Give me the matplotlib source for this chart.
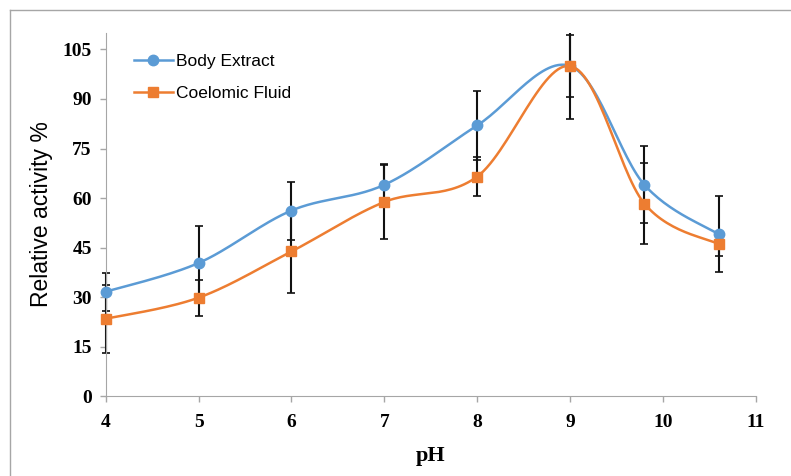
import numpy as np
import matplotlib
matplotlib.use('Agg')
import matplotlib.pyplot as plt
from matplotlib.lines import Line2D
from matplotlib.patches import Rectangle

# data
ph = [4, 5, 6, 7, 8, 9, 9.8, 10.6]
body = [31.6, 40.3, 56.2, 64.0, 82.0, 100.0, 64.0, 49.0]
body_err = [5.8, 11.2, 8.8, 6.4, 10.5, 9.4, 11.7, 11.5]
coel = [23.4, 29.8, 43.8, 58.8, 66.5, 100.0, 58.3, 46.0]
coel_err = [10.3, 5.5, 12.5, 11.3, 6.0, 16.0, 12.3, 3.5]

BLUE = '#5B9BD5'
ORANGE = '#ED7D31'


def smooth(x, y, n=30):
    # Excel-like smoothed line: cubic bezier through the points
    x = np.asarray(x, float)
    y = np.asarray(y, float)
    px, py = [], []
    for i in range(len(x) - 1):
        i0 = max(i - 1, 0)
        i3 = min(i + 2, len(x) - 1)
        c1x = x[i] + (x[i + 1] - x[i0]) / 6
        c1y = y[i] + (y[i + 1] - y[i0]) / 6
        c2x = x[i + 1] - (x[i3] - x[i]) / 6
        c2y = y[i + 1] - (y[i3] - y[i]) / 6
        t = np.linspace(0, 1, n)
        bx = (1-t)**3*x[i] + 3*(1-t)**2*t*c1x + 3*(1-t)*t**2*c2x + t**3*x[i+1]
        by = (1-t)**3*y[i] + 3*(1-t)**2*t*c1y + 3*(1-t)*t**2*c2y + t**3*y[i+1]
        px.extend(bx)
        py.extend(by)
    return px, py


fig = plt.figure(figsize=(7.91, 4.76), dpi=100)
ax = fig.add_axes([0.1336, 0.168, 0.822, 0.7627])

# clip only at top/bottom so bars at pH 4 stay whole
clip = Rectangle((-0.05, 0), 1.1, 1.0, transform=ax.transAxes, fill=False, visible=False)
ax.add_patch(clip)

for y, err, col, mk, ms in [(body, body_err, BLUE, 'o', 7.5), (coel, coel_err, ORANGE, 's', 6.5)]:
    sx, sy = smooth(ph, y)
    ax.plot(sx, sy, color=col, lw=1.8, zorder=3, clip_on=False)
    eb = ax.errorbar(ph, y, yerr=err, fmt='none', ecolor='#111111', elinewidth=1.5,
                     capsize=3, capthick=1.2, zorder=2)
    for art in list(eb.lines[1]) + list(eb.lines[2]):
        art.set_clip_path(clip)
    ax.plot(ph, y, ls='none', marker=mk, ms=ms, color=col, mec=col, zorder=4, clip_on=False)

ax.set_xlim(4, 11)
ax.set_ylim(0, 110)
ax.set_xticks(range(4, 12))
ax.set_yticks(range(0, 106, 15))
for s in ['top', 'right']:
    ax.spines[s].set_visible(False)
for s in ['left', 'bottom']:
    ax.spines[s].set_color('#a6a6a6')
ax.tick_params(colors='#a6a6a6', length=4, width=1, labelcolor='black')
for lab in ax.get_xticklabels() + ax.get_yticklabels():
    lab.set_fontfamily('Liberation Serif')
    lab.set_fontweight('bold')
    lab.set_fontsize(14)
ax.tick_params(axis='x', pad=9)
ax.tick_params(axis='y', pad=6)

ax.set_xlabel('pH', fontfamily='Liberation Serif', fontweight='bold', fontsize=16, labelpad=11)
ax.set_ylabel('Relative activity %', fontfamily='Liberation Sans', fontsize=16.5, labelpad=7)

handles = [Line2D([], [], color=BLUE, lw=1.8, marker='o', ms=7.5),
           Line2D([], [], color=ORANGE, lw=1.8, marker='s', ms=6.5)]
ax.legend(handles, ['Body Extract', 'Coelomic Fluid'], loc='upper left',
          bbox_to_anchor=(0.02, 0.985), frameon=False, handlelength=2.2,
          handletextpad=0.2, labelspacing=0.95,
          prop={'family': 'Liberation Sans', 'size': 12.5})

# thin gray frame of the original screenshot (left and top edges)
fig.add_artist(Line2D([10 / 791, 10 / 791], [0, 1 - 10 / 476], color='#a6a6a6', lw=1))
fig.add_artist(Line2D([10 / 791, 1], [1 - 10 / 476, 1 - 10 / 476], color='#a6a6a6', lw=1))

fig.savefig('out.png', dpi=100)
